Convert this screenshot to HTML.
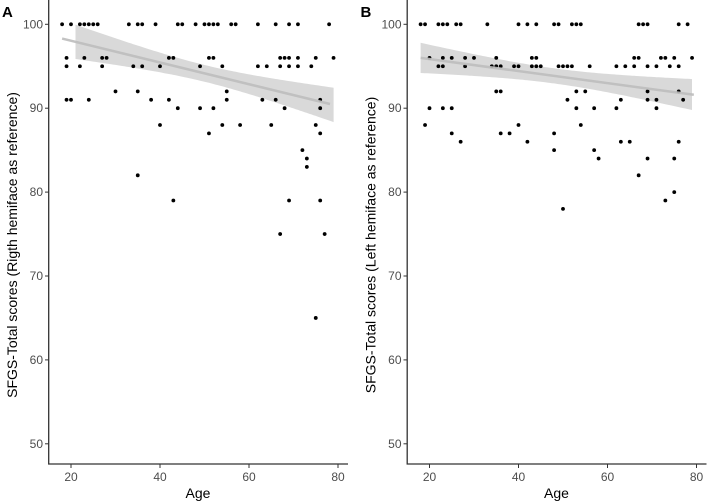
<!DOCTYPE html>
<html><head><meta charset="utf-8"><style>
body{margin:0;background:#fff;}
svg{display:block;font-family:"Liberation Sans",sans-serif;}
</style></head><body>
<svg id="chart" width="709" height="502" viewBox="0 0 709 502" xmlns="http://www.w3.org/2000/svg"></svg>
<script>
const agesA100=[18,20,22,23,24,25,26,33,35,36,39,44,45,48,50,51,52,53,56,57,62,66,69,71,78];
const agesA96=[19,23,27,28,42,43,51,52,67,68,69,71,75,79];
const agesA95=[19,22,27,34,36,40,49,54,62,64,67,69,71,74];
const otherA=[[30,92],[35,92],[55,92],[19,91],[20,91],[24,91],[38,91],[42,91],[55,91],[63,91],[66,91],[76,91],[44,90],[49,90],[52,90],[68,90],[76,90],[40,88],[54,88],[58,88],[65,88],[75,88],[51,87],[76,87],[72,85],[73,84],[73,83],[35,82],[43,79],[69,79],[76,79],[67,75],[77,75],[75,65]];
const fitA=[18,98.3,78.2,90.5];
const bandA=[21,79,50,1.0,0.0038];
const agesB100=[18,19,22,23,24,26,27,33,40,42,44,48,49,52,53,54,67,68,69,76,78];
const agesB96=[20,23,25,28,30,35,43,44,66,67,72,73,75,79];
const agesB95=[22,23,28,34,35,36,39,40,43,44,45,49,50,51,52,56,62,64,66,69,71,74,76];
const otherB=[[35,92],[36,92],[53,92],[55,92],[69,92],[76,92],[51,91],[63,91],[69,91],[71,91],[77,91],[20,90],[23,90],[25,90],[53,90],[57,90],[62,90],[71,90],[19,88],[40,88],[54,88],[25,87],[36,87],[38,87],[48,87],[27,86],[42,86],[63,86],[65,86],[76,86],[48,85],[57,85],[58,84],[69,84],[75,84],[67,82],[75,80],[73,79],[50,78]];
const fitB=[18,96.0,79.4,91.6];
const bandB=[18,79.4,48,0.9,0.0027];
const xTicks=[20,40,60,80];
const yTicks=[50,60,70,80,90,100];

const svg=document.getElementById('chart');
const NS='http://www.w3.org/2000/svg';
function mk(tag,attrs,parent){const e=document.createElementNS(NS,tag);for(const k in attrs)e.setAttribute(k,attrs[k]);(parent||svg).appendChild(e);return e;}

function panel(off,letter,title,a100,a96,a95,other,fit,band){
  const g=mk('g',{});
  
  
  const X=a=>off+71+(a-20)*4.45;
  const Y=v=>24.3+(100-v)*8.39;
  // band
  let up=[],lo=[];
  for(let a=band[0];a<=band[1]+0.001;a+=0.5){
    const m=fit[1]+(fit[3]-fit[1])*(a-fit[0])/(fit[2]-fit[0]);
    const h=Math.sqrt(band[3]*band[3]+band[4]*(a-band[2])*(a-band[2]))*1.0;
    up.push(X(a).toFixed(1)+','+Y(m+h).toFixed(1));lo.unshift(X(a).toFixed(1)+','+Y(m-h).toFixed(1));
  }
  const poly=mk('polygon',{points:up.concat(lo).join(' '),fill:'#d9d9d9'},g);
  
  
  const pts=[];
  a100.forEach(a=>pts.push([a,100]));a96.forEach(a=>pts.push([a,96]));a95.forEach(a=>pts.push([a,95]));other.forEach(p=>pts.push(p));
  pts.forEach(p=>{
    const c=mk('circle',{cx:X(p[0]),cy:Y(p[1]),r:1.9,fill:'#000'},g);
    
    
  });
  const ln=mk('line',{x1:X(fit[0]),y1:Y(fit[1]),x2:X(fit[2]),y2:Y(fit[3]),stroke:'#bdbdbd','stroke-width':2.5,'stroke-opacity':0.9},g);
  
  
  // axes
  const ax=mk('path',{d:`M${off+48.7},0V464H${off+348}`,stroke:'#333',fill:'none','stroke-width':1.3},g);
  
  
  xTicks.forEach(t=>{
    mk('line',{x1:X(t),x2:X(t),y1:464,y2:468,stroke:'#333'},g);
    const tx=mk('text',{x:X(t),y:481,'text-anchor':'middle','font-size':12,fill:'#4d4d4d'},g);tx.textContent=t;
    
    
  });
  yTicks.forEach(t=>{
    mk('line',{x1:off+45,x2:off+48.7,y1:Y(t),y2:Y(t),stroke:'#333'},g);
    const tx=mk('text',{x:off+43,y:Y(t)+4,'text-anchor':'end','font-size':12,fill:'#4d4d4d'},g);tx.textContent=t;
    
    
  });
  const xt=mk('text',{x:off+198,y:498,'text-anchor':'middle','font-size':14,fill:'#000'},g);xt.textContent='Age';
  
  
  const yt=mk('text',{x:0,y:0,'text-anchor':'middle','font-size':14,fill:'#000',transform:`translate(${off+17},245) rotate(-90)`},g);yt.textContent=title;
  
  
  const lt=mk('text',{x:off+2,y:17,'font-size':15,'font-weight':'bold',fill:'#000'},g);lt.textContent=letter;
  
  
}
panel(0,'A','SFGS-Total scores (Rigth hemiface as reference)',agesA100,agesA96,agesA95,otherA,fitA,bandA);
panel(358.5,'B','SFGS-Total scores (Left hemiface as reference)',agesB100,agesB96,agesB95,otherB,fitB,bandB);
</script>
</body></html>
